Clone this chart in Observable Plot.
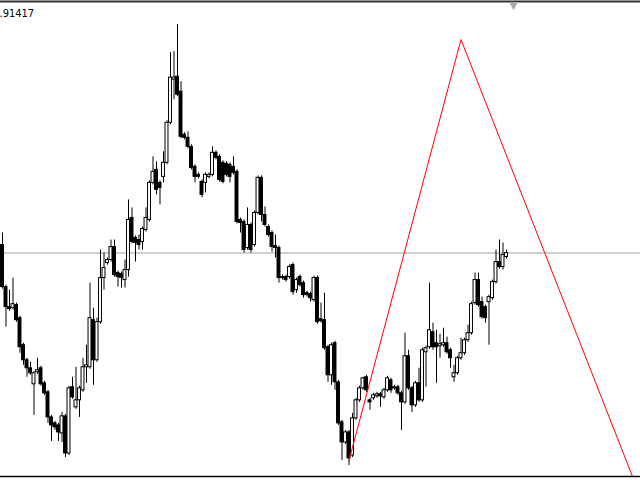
<!DOCTYPE html>
<html><head><meta charset="utf-8">
<script src="https://cdn.jsdelivr.net/npm/d3@7"></script>
<script src="https://cdn.jsdelivr.net/npm/@observablehq/plot@0.6"></script>
<style>html,body{margin:0;padding:0;background:#fff;overflow:hidden}</style>
</head><body><div id="chart"></div>
<script>
const opens = [0.8907,0.8865,0.8845,0.8844,0.8847,0.8834,0.8807,0.8792,0.8784,0.8768,
0.8780,0.8784,0.8769,0.8760,0.8735,0.8729,0.8727,0.8719,0.8736,0.8699,
0.8765,0.8745,0.8752,0.8762,0.8785,0.8785,0.8832,0.8792,0.8830,0.8874,
0.8889,0.8892,0.8905,0.8879,0.8878,0.8872,0.8882,0.8934,0.8914,0.8912,
0.8910,0.8922,0.8932,0.8969,0.8982,0.8969,0.8975,0.8989,0.9029,0.9072,
0.9075,0.9060,0.9017,0.9014,0.9005,0.8985,0.8977,0.8970,0.8969,0.8975,
0.8977,0.8999,0.8995,0.8989,0.8988,0.8987,0.8985,0.8980,0.8932,0.8930,
0.8904,0.8927,0.8907,0.8939,0.8974,0.8937,0.8925,0.8919,0.8906,0.8904,
0.8875,0.8875,0.8875,0.8887,0.8862,0.8875,0.8869,0.8859,0.8858,0.8852,
0.8874,0.8833,0.8832,0.8805,0.8777,0.8809,0.8770,0.8730,0.8710,0.8720,
0.8697,0.8734,0.8752,0.8764,0.8775,0.8752,0.8754,0.8756,0.8758,0.8755,
0.8762,0.8772,0.8765,0.8765,0.8759,0.8750,0.8796,0.8764,0.8747,0.8769,
0.8752,0.8800,0.8805,0.8820,0.8809,0.8806,0.8807,0.8809,0.8802,0.8775,
0.8779,0.8794,0.8799,0.8812,0.8819,0.8849,0.8872,0.8850,0.8845,0.8850,
0.8854,0.8870,0.8890,0.8885,0.8895];
const highs = [0.8919,0.8867,0.8862,0.8874,0.8849,0.8836,0.8809,0.8794,0.8790,0.8781,
0.8794,0.8786,0.8771,0.8762,0.8737,0.8731,0.8729,0.8740,0.8738,0.8766,
0.8775,0.8785,0.8766,0.8794,0.8807,0.8869,0.8844,0.8834,0.8902,0.8899,
0.8894,0.8912,0.8912,0.8881,0.8880,0.8892,0.8952,0.8944,0.8916,0.8917,
0.8925,0.8944,0.8971,0.8995,0.8990,0.8971,0.9000,0.9031,0.9099,0.9100,
0.9127,0.9070,0.9019,0.9020,0.9007,0.8987,0.8979,0.8972,0.8979,0.8979,
0.9005,0.9001,0.8997,0.8991,0.8990,0.8989,0.8995,0.8982,0.8934,0.8932,
0.8944,0.8929,0.8941,0.8976,0.8976,0.8945,0.8927,0.8921,0.8917,0.8906,
0.8877,0.8877,0.8887,0.8889,0.8874,0.8877,0.8871,0.8861,0.8860,0.8876,
0.8876,0.8849,0.8859,0.8807,0.8809,0.8811,0.8772,0.8732,0.8722,0.8722,
0.8739,0.8754,0.8766,0.8775,0.8777,0.8754,0.8759,0.8760,0.8760,0.8764,
0.8776,0.8774,0.8767,0.8767,0.8761,0.8819,0.8802,0.8766,0.8771,0.8784,
0.8804,0.8806,0.8869,0.8829,0.8822,0.8818,0.8824,0.8815,0.8804,0.8787,
0.8796,0.8814,0.8814,0.8827,0.8850,0.8879,0.8879,0.8855,0.8847,0.8857,
0.8872,0.8902,0.8912,0.8909,0.8902];
const lows = [0.8863,0.8825,0.8841,0.8842,0.8830,0.8799,0.8787,0.8775,0.8777,0.8737,
0.8778,0.8766,0.8757,0.8729,0.8711,0.8722,0.8711,0.8710,0.8695,0.8697,
0.8753,0.8743,0.8735,0.8760,0.8769,0.8783,0.8767,0.8790,0.8828,0.8862,
0.8887,0.8890,0.8875,0.8865,0.8864,0.8864,0.8875,0.8908,0.8890,0.8902,
0.8902,0.8920,0.8930,0.8967,0.8957,0.8947,0.8969,0.8987,0.9027,0.9052,
0.9055,0.9013,0.9012,0.9003,0.8982,0.8969,0.8973,0.8954,0.8959,0.8973,
0.8975,0.8992,0.8970,0.8968,0.8975,0.8969,0.8977,0.8928,0.8919,0.8899,
0.8902,0.8899,0.8905,0.8937,0.8930,0.8925,0.8915,0.8900,0.8894,0.8869,
0.8872,0.8870,0.8873,0.8857,0.8859,0.8865,0.8854,0.8855,0.8850,0.8850,
0.8828,0.8829,0.8802,0.8770,0.8767,0.8762,0.8727,0.8692,0.8708,0.8687,
0.8695,0.8732,0.8750,0.8762,0.8760,0.8742,0.8752,0.8754,0.8745,0.8753,
0.8760,0.8759,0.8762,0.8757,0.8722,0.8748,0.8762,0.8740,0.8745,0.8750,
0.8750,0.8765,0.8803,0.8802,0.8769,0.8794,0.8805,0.8798,0.8784,0.8770,
0.8777,0.8792,0.8797,0.8810,0.8817,0.8847,0.8845,0.8833,0.8829,0.8807,
0.8852,0.8868,0.8883,0.8882,0.8893];
const closes = [0.8865,0.8845,0.8843,0.8848,0.8832,0.8805,0.8792,0.8784,0.8779,0.8779,
0.8782,0.8768,0.8759,0.8735,0.8727,0.8725,0.8720,0.8736,0.8699,0.8764,
0.8755,0.8752,0.8764,0.8785,0.8787,0.8834,0.8792,0.8830,0.8874,0.8884,
0.8892,0.8905,0.8877,0.8875,0.8874,0.8882,0.8932,0.8910,0.8909,0.8907,
0.8923,0.8934,0.8969,0.8980,0.8962,0.8964,0.8989,0.9029,0.9074,0.9074,
0.9057,0.9015,0.9014,0.9005,0.8984,0.8975,0.8975,0.8957,0.8977,0.8977,
0.8999,0.8994,0.8972,0.8970,0.8977,0.8975,0.8979,0.8930,0.8929,0.8902,
0.8927,0.8902,0.8939,0.8974,0.8937,0.8927,0.8917,0.8905,0.8904,0.8874,
0.8874,0.8872,0.8885,0.8860,0.8872,0.8867,0.8857,0.8857,0.8854,0.8874,
0.8830,0.8831,0.8804,0.8777,0.8807,0.8770,0.8729,0.8710,0.8720,0.8694,
0.8734,0.8752,0.8764,0.8774,0.8762,0.8750,0.8757,0.8758,0.8756,0.8762,
0.8774,0.8762,0.8764,0.8759,0.8750,0.8796,0.8764,0.8747,0.8769,0.8752,
0.8802,0.8804,0.8822,0.8805,0.8805,0.8808,0.8809,0.8800,0.8794,0.8779,
0.8794,0.8799,0.8812,0.8819,0.8848,0.8872,0.8847,0.8835,0.8834,0.8855,
0.8870,0.8890,0.8885,0.8897,0.8899];
const bidPrice = 0.8899;
const zigzagIndex = [99, 131, 180];
const zigzagPrice = [0.8692, 0.9112, 0.8676];
const priceLabel = ".91417";
const shiftMarkerIndex = 146;
const priceTop = 0.9150, priceBottom = 0.8676;

const candles = opens.map((o, i) => ({i, open: o, high: highs[i], low: lows[i], close: closes[i]}));
const zig = zigzagIndex.map((x, k) => ({x, y: zigzagPrice[k]}));

const plot = Plot.plot({
  width: 640, height: 480,
  marginLeft: 0, marginRight: 0, marginTop: 1, marginBottom: 4,
  x: {domain: [-2 / 3.5, 638 / 3.5], axis: null},
  y: {domain: [priceBottom, priceTop], axis: null},
  style: {background: "#fff", overflow: "visible"},
  marks: [
    Plot.ruleY([bidPrice], {stroke: "#c0c0c0", strokeWidth: 1.5}),
    Plot.ruleX(candles, {x: "i", y1: "low", y2: "high", stroke: "#000", strokeWidth: 1}),
    Plot.rect(candles, {
      x1: d => d.i - 0.42, x2: d => d.i + 0.42, y1: "open", y2: "close",
      fill: d => d.close >= d.open ? "#fff" : "#000", stroke: "#000", strokeWidth: 1
    }),
    Plot.line(zig, {x: "x", y: "y", stroke: "#ff0000", strokeWidth: 1}),
    Plot.ruleY([priceTop], {stroke: "#333", strokeWidth: 2}),
    Plot.ruleY([priceBottom], {stroke: "#000", strokeWidth: 1.5}),
    Plot.text([priceLabel], {frameAnchor: "top-left", text: d => d, dy: 8, dx: -1,
      textAnchor: "start", lineAnchor: "top", fontSize: 11,
      fontFamily: "'Liberation Sans Narrow', 'DejaVu Sans Condensed', sans-serif", fill: "#000"}),
    Plot.text([shiftMarkerIndex], {x: d => d, frameAnchor: "top", text: () => "▼",
      lineAnchor: "top", dy: 0, fontSize: 11, fill: "#a8a8a8", fontFamily: "DejaVu Sans"})
  ]
});
document.getElementById("chart").appendChild(plot);
</script>
</body></html>
